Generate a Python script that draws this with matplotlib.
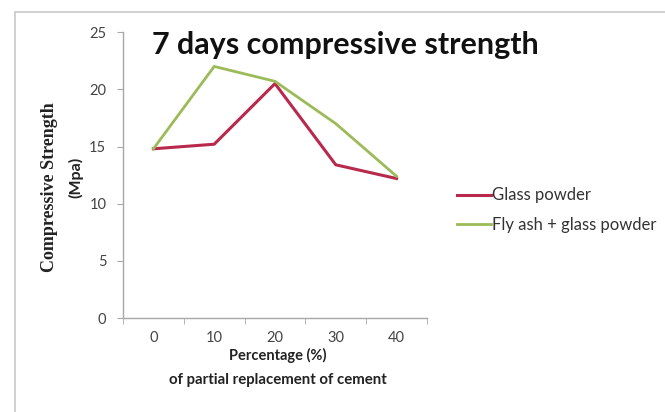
import matplotlib.pyplot as plt
from matplotlib.patches import Rectangle

# --- DATA ---
categories = ["0", "10", "20", "30", "40"]
glass_powder = [14.8, 15.2, 20.5, 13.4, 12.2]
fly_ash_glass = [14.8, 22.0, 20.7, 17.0, 12.4]
y_ticks = [0, 5, 10, 15, 20, 25]

RED = "#b8294c"
GREEN = "#9bbb59"
SANS = ["Lato", "DejaVu Sans"]
SERIF = ["Liberation Serif", "DejaVu Serif"]

fig = plt.figure(figsize=(6.65, 4.12), dpi=100)
fig.patch.set_facecolor("white")

# outer chart border
fig.patches.append(Rectangle((0.022, -0.01), 1.0, 0.98, transform=fig.transFigure,
                             fill=False, edgecolor="#c8c8c8", linewidth=1.2))

ax = fig.add_axes([0.185, 0.228, 0.457, 0.694])
x = list(range(len(categories)))
ax.plot(x, glass_powder, color=RED, linewidth=2.2, label="Glass powder")
ax.plot(x, fly_ash_glass, color=GREEN, linewidth=2.0, label="Fly ash + glass powder")

ax.set_xlim(-0.5, 4.5)
ax.set_ylim(0, 25)
ax.set_yticks(y_ticks)
ax.set_xticks(x)
ax.set_xticklabels(categories)
ax.set_xticks([i - 0.5 for i in range(len(categories) + 1)], minor=True)

for s in ["top", "right"]:
    ax.spines[s].set_visible(False)
for s in ["left", "bottom"]:
    ax.spines[s].set_color("#a8a8a8")
    ax.spines[s].set_linewidth(1.0)

ax.tick_params(axis="y", length=4, color="#a8a8a8", labelsize=10.5, labelcolor="#444444", pad=8)
ax.tick_params(axis="x", which="major", length=0, labelsize=10.5, labelcolor="#444444", pad=9)
ax.tick_params(axis="x", which="minor", length=4, color="#a8a8a8")
for lbl in ax.get_xticklabels() + ax.get_yticklabels():
    lbl.set_family(SANS)

# title
fig.text(0.229, 0.89, "7 days compressive strength", family=SANS, fontsize=22,
         fontweight="bold", color="#111111", va="center", ha="left")

# axis labels
fig.text(0.074, 0.545, "Compressive Strength", family=SERIF, fontsize=13,
         fontweight="bold", rotation=90, va="center", ha="center", color="#222222")
fig.text(0.114, 0.57, "(Mpa)", family=SANS, fontsize=11.5,
         fontweight="bold", rotation=90, va="center", ha="center", color="#222222")
fig.text(0.418, 0.138, "Percentage (%)", family=SANS, fontsize=10.5,
         fontweight="bold", ha="center", va="center", color="#222222")
fig.text(0.418, 0.077, "of partial replacement of cement", family=SANS, fontsize=10.8,
         fontweight="bold", ha="center", va="center", color="#222222")

fig.legend(loc="center left", bbox_to_anchor=(0.665, 0.49), frameon=False,
           prop={"family": SANS, "size": 12}, handlelength=2.0, handletextpad=0.1,
           labelspacing=0.8, labelcolor="#333333")

plt.savefig("out.png", dpi=100)
